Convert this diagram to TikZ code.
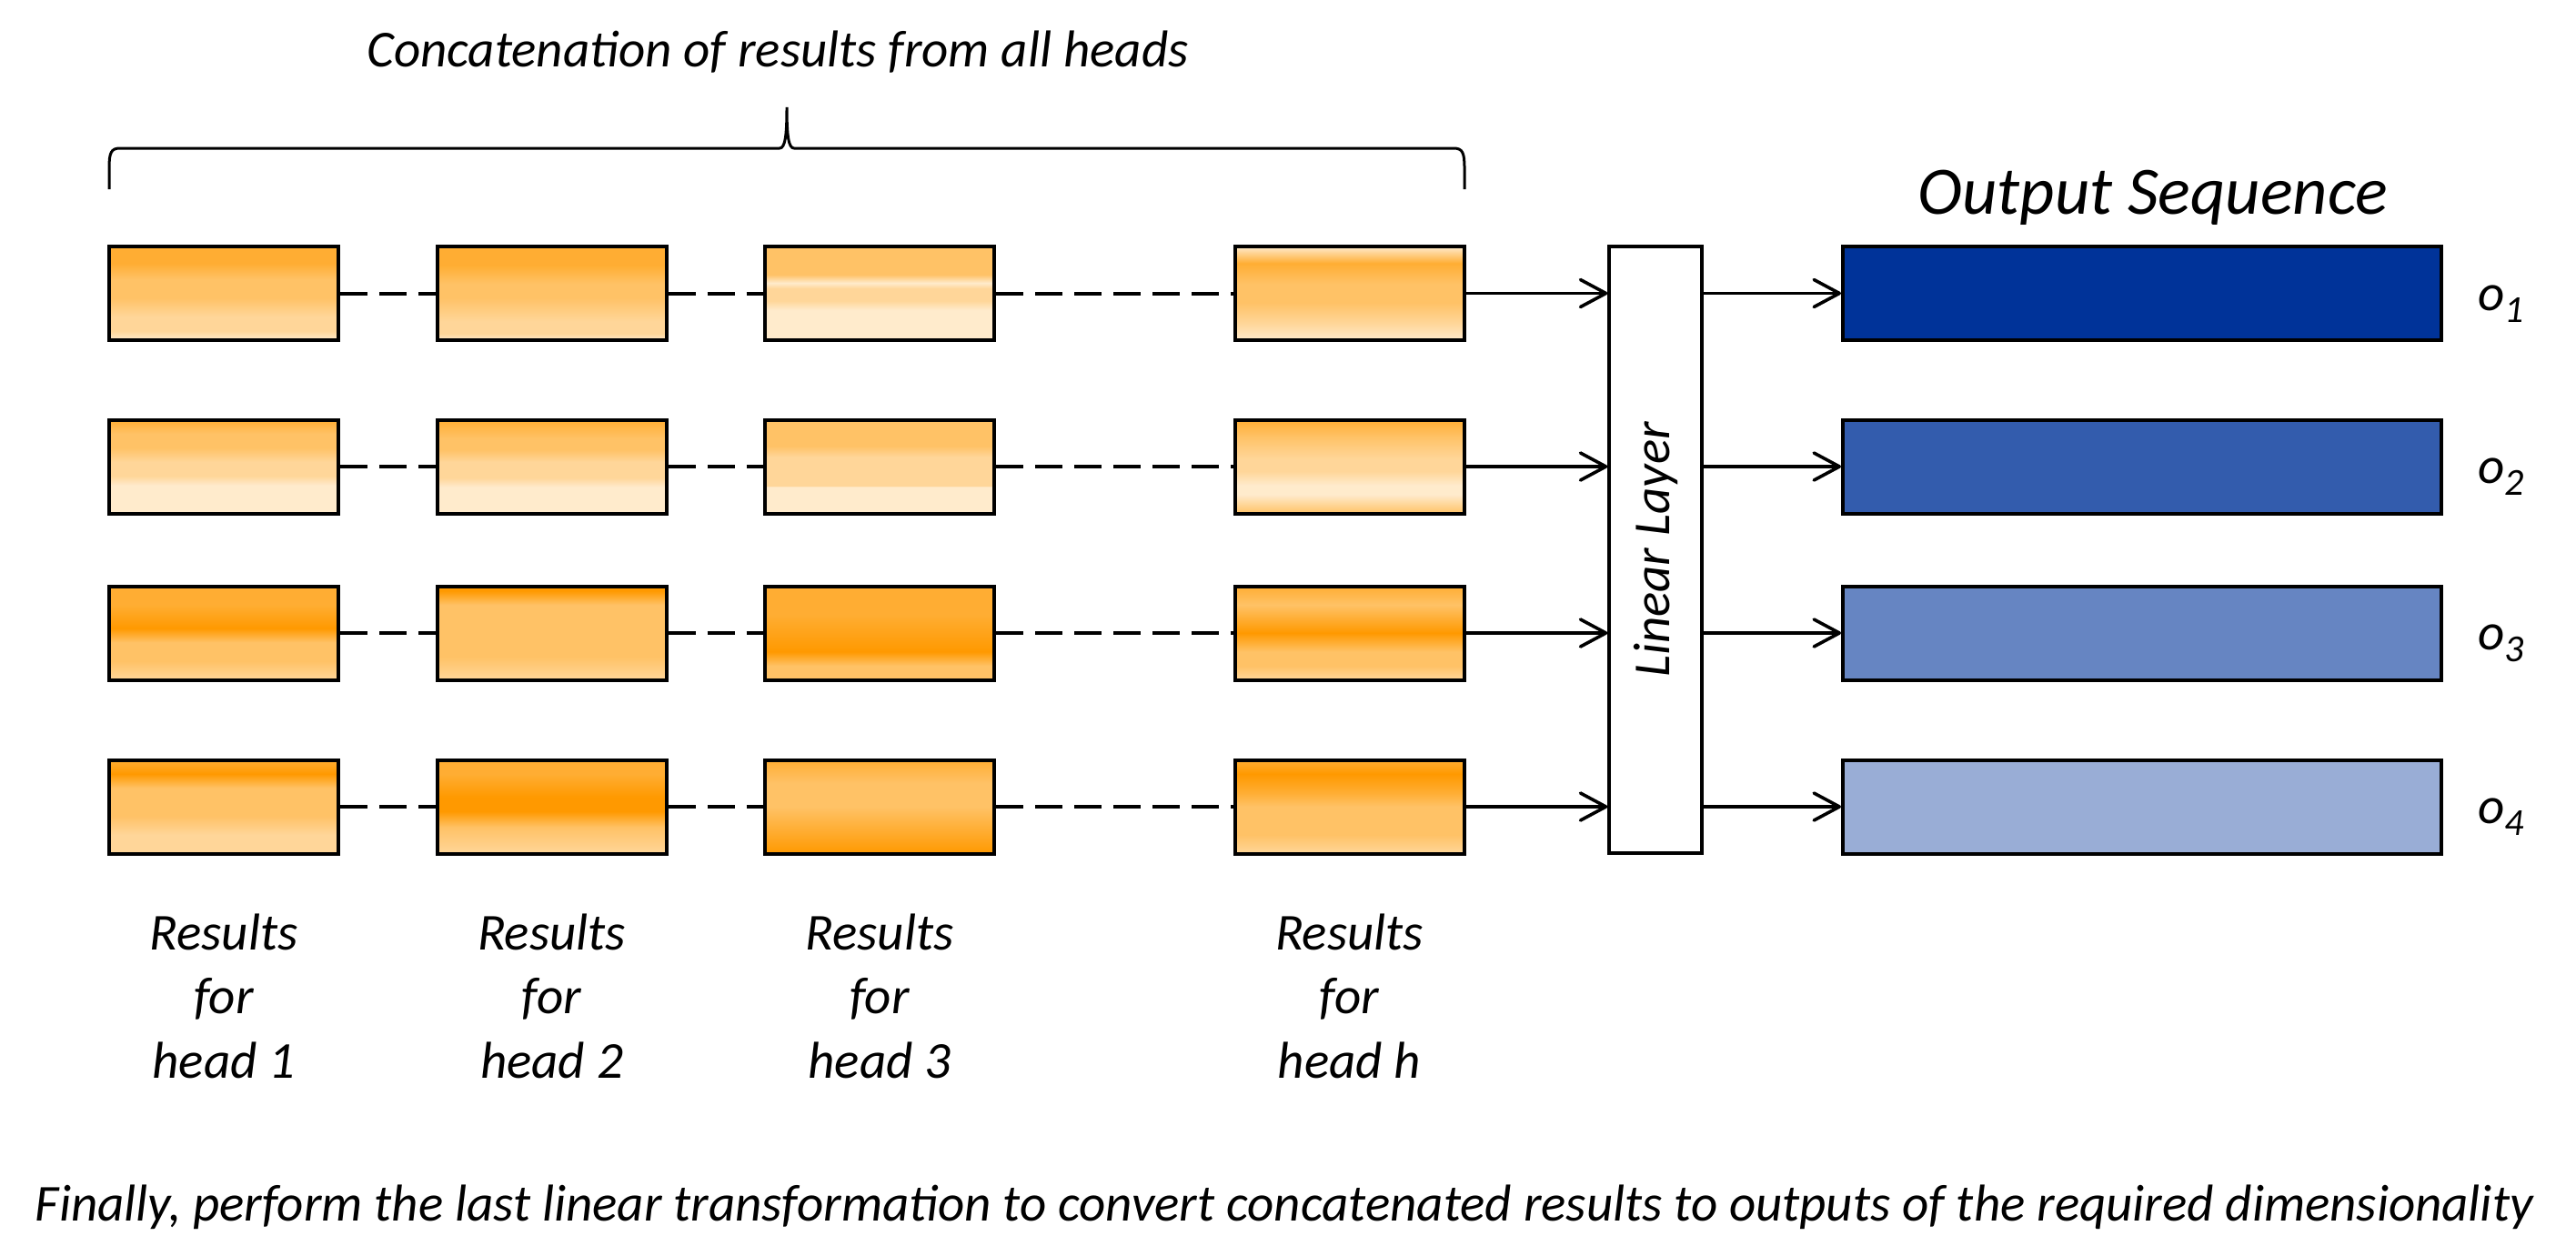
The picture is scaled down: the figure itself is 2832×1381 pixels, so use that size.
\documentclass[tikz,border=0pt]{standalone}
\usepackage{fontspec}
\setmainfont{Carlito}
\usepackage{xcolor}
\usetikzlibrary{arrows.meta}

\definecolor{orng}{RGB}{255,153,0}
\colorlet{o100}{orng}
\colorlet{o80}{orng!80}
\colorlet{o60}{orng!60}
\colorlet{o40}{orng!40}
\colorlet{o20}{orng!20}
\definecolor{outblue}{RGB}{0,51,153}

% one shading per head box, stops run from the top of the box down
\pgfdeclareverticalshading{sh11}{100bp}{color(0bp)=(o80); color(25bp)=(o80); color(34bp)=(o80); color(42.5bp)=(o60); color(52.5bp)=(o60); color(62.5bp)=(o40); color(70bp)=(o40); color(75bp)=(o20); color(100bp)=(o20)}
\pgfdeclareverticalshading{sh12}{100bp}{color(0bp)=(o80); color(25bp)=(o80); color(35bp)=(o80); color(45bp)=(o60); color(52.5bp)=(o60); color(65bp)=(o40); color(71.5bp)=(o40); color(75bp)=(o20); color(100bp)=(o20)}
\pgfdeclareverticalshading{sh13}{100bp}{color(0bp)=(o60); color(25bp)=(o60); color(40bp)=(o60); color(44.5bp)=(o20); color(47.5bp)=(o40); color(54bp)=(o40); color(59bp)=(o20); color(75bp)=(o20); color(100bp)=(o20)}
\pgfdeclareverticalshading{sh14}{100bp}{color(0bp)=(o20); color(25bp)=(o20); color(28bp)=(o40); color(34bp)=(o80); color(45bp)=(o60); color(55bp)=(o60); color(66bp)=(o40); color(75bp)=(o20); color(100bp)=(o20)}
\pgfdeclareverticalshading{sh21}{100bp}{color(0bp)=(o80); color(25bp)=(o80); color(32.5bp)=(o60); color(40bp)=(o60); color(47.5bp)=(o40); color(55bp)=(o40); color(60bp)=(o20); color(75bp)=(o20); color(100bp)=(o20)}
\pgfdeclareverticalshading{sh22}{100bp}{color(0bp)=(o80); color(25bp)=(o80); color(35bp)=(o60); color(41bp)=(o60); color(47.5bp)=(o40); color(56bp)=(o40); color(61bp)=(o20); color(75bp)=(o20); color(100bp)=(o20)}
\pgfdeclareverticalshading{sh23}{100bp}{color(0bp)=(o60); color(25bp)=(o60); color(39bp)=(o60); color(45bp)=(o40); color(60.5bp)=(o40); color(60.75bp)=(o20); color(75bp)=(o20); color(100bp)=(o20)}
\pgfdeclareverticalshading{sh24}{100bp}{color(0bp)=(o80); color(25bp)=(o80); color(34bp)=(o60); color(46bp)=(o40); color(52.5bp)=(o40); color(60bp)=(o20); color(65bp)=(o20); color(70bp)=(o40); color(75bp)=(o60); color(100bp)=(o60)}
\pgfdeclareverticalshading{sh31}{100bp}{color(0bp)=(o80); color(25bp)=(o80); color(35bp)=(o80); color(47.5bp)=(o100); color(55bp)=(o60); color(65bp)=(o60); color(75bp)=(o40); color(100bp)=(o40)}
\pgfdeclareverticalshading{sh32}{100bp}{color(0bp)=(o100); color(25bp)=(o100); color(27.5bp)=(o100); color(35bp)=(o60); color(62.5bp)=(o60); color(75bp)=(o40); color(100bp)=(o40)}
\pgfdeclareverticalshading{sh33}{100bp}{color(0bp)=(o80); color(25bp)=(o80); color(40bp)=(o80); color(60bp)=(o100); color(67.5bp)=(o60); color(75bp)=(o60); color(100bp)=(o60)}
\pgfdeclareverticalshading{sh34}{100bp}{color(0bp)=(o80); color(25bp)=(o80); color(35bp)=(o60); color(50bp)=(o100); color(60bp)=(o60); color(67.5bp)=(o60); color(75bp)=(o40); color(100bp)=(o40)}
\pgfdeclareverticalshading{sh41}{100bp}{color(0bp)=(o80); color(25bp)=(o80); color(32.5bp)=(o100); color(40bp)=(o60); color(55bp)=(o60); color(65bp)=(o40); color(75bp)=(o40); color(100bp)=(o40)}
\pgfdeclareverticalshading{sh42}{100bp}{color(0bp)=(o80); color(25bp)=(o80); color(32.5bp)=(o80); color(45bp)=(o100); color(52.5bp)=(o100); color(61bp)=(o60); color(75bp)=(o40); color(100bp)=(o40)}
\pgfdeclareverticalshading{sh43}{100bp}{color(0bp)=(o80); color(25bp)=(o80); color(37.5bp)=(o60); color(50bp)=(o60); color(62.5bp)=(o80); color(75bp)=(o100); color(100bp)=(o100)}
\pgfdeclareverticalshading{sh44}{100bp}{color(0bp)=(o80); color(25bp)=(o80); color(32.5bp)=(o100); color(42.5bp)=(o80); color(50bp)=(o60); color(65bp)=(o60); color(75bp)=(o40); color(100bp)=(o40)}

\newcommand{\osub}[1]{\raisebox{-6.5pt}{\fontsize{21pt}{24pt}\selectfont #1}}

\begin{document}
\begin{tikzpicture}[x=0.5pt, y=-0.5pt,
    headbox/.style = {draw, line width=2pt, minimum width=126pt,
      minimum height=51.5pt, inner sep=0pt, shade, shading=#1, shading angle=180},
    outbox/.style = {draw, line width=2pt, minimum width=329pt,
      minimum height=51.5pt, inner sep=0pt, fill=#1},
    linbox/.style = {draw, line width=1.7pt, minimum width=51pt,
      minimum height=333.5pt, inner sep=0pt},
    linkdash/.style = {line width=2pt, dash pattern=on 15pt off 6.5pt},
    feed/.style = {line width=1.8pt, -{Straight Barb[length=14pt,width=15pt,round]}},
    headtag/.style = {font=\fontsize{28.5pt}{35.25pt}\selectfont\itshape,
      align=center, inner sep=0pt}]
  \useasboundingbox (0,0) rectangle (2832,1381);

  \node[headtag, anchor=base] (concat) at (855,73) {Concatenation of results from all heads};
  \draw[line width=1.5pt] (120,208) -- (120,185) .. controls (120,168) and (122,163) .. (132,163)
    -- (857,163) .. controls (863,163) and (865,150) .. (865,118)
    .. controls (865,150) and (867,163) .. (873,163) -- (1598,163)
    .. controls (1608,163) and (1610,168) .. (1610,185) -- (1610,208);

  \node[headbox=sh11] (h11) at (246,322.5) {};
  \node[headbox=sh12] (h12) at (606.5,322.5) {};
  \node[headbox=sh13] (h13) at (967,322.5) {};
  \node[headbox=sh14] (h14) at (1483.5,322.5) {};
  \node[headbox=sh21] (h21) at (246,513) {};
  \node[headbox=sh22] (h22) at (606.5,513) {};
  \node[headbox=sh23] (h23) at (967,513) {};
  \node[headbox=sh24] (h24) at (1483.5,513) {};
  \node[headbox=sh31] (h31) at (246,696) {};
  \node[headbox=sh32] (h32) at (606.5,696) {};
  \node[headbox=sh33] (h33) at (967,696) {};
  \node[headbox=sh34] (h34) at (1483.5,696) {};
  \node[headbox=sh41] (h41) at (246,887) {};
  \node[headbox=sh42] (h42) at (606.5,887) {};
  \node[headbox=sh43] (h43) at (967,887) {};
  \node[headbox=sh44] (h44) at (1483.5,887) {};

  \draw[linkdash] (h11) -- (h12); \draw[linkdash] (h12) -- (h13); \draw[linkdash] (h13) -- (h14);
  \draw[linkdash] (h21) -- (h22); \draw[linkdash] (h22) -- (h23); \draw[linkdash] (h23) -- (h24);
  \draw[linkdash] (h31) -- (h32); \draw[linkdash] (h32) -- (h33); \draw[linkdash] (h33) -- (h34);
  \draw[linkdash] (h41) -- (h42); \draw[linkdash] (h42) -- (h43); \draw[linkdash] (h43) -- (h44);

  \node[linbox] (lin) at (1820,604.5) {};
  \node[headtag, rotate=90] (linname) at (lin.center) {Linear Layer};

  \node[font=\fontsize{37.3pt}{45pt}\selectfont\itshape, anchor=base, inner sep=0pt]
    (title) at (2367,235) {Output Sequence};
  \node[outbox=outblue] (ob1) at (2355,322.5) {};
  \node[outbox=outblue!80] (ob2) at (2355,513) {};
  \node[outbox=outblue!60] (ob3) at (2355,696) {};
  \node[outbox=outblue!40] (ob4) at (2355,887) {};

  \draw[feed] (h14) -- (h14 -| lin.west);
  \draw[feed] (h24) -- (h24 -| lin.west);
  \draw[feed] (h34) -- (h34 -| lin.west);
  \draw[feed] (h44) -- (h44 -| lin.west);
  \draw[feed] (lin.east |- ob1) -- (ob1);
  \draw[feed] (lin.east |- ob2) -- (ob2);
  \draw[feed] (lin.east |- ob3) -- (ob3);
  \draw[feed] (lin.east |- ob4) -- (ob4);

  \node[headtag, anchor=base west] (o1) at (2724,341) {o\osub{1}};
  \node[headtag, anchor=base west] (o2) at (2724,531.5) {o\osub{2}};
  \node[headtag, anchor=base west] (o3) at (2724,714.5) {o\osub{3}};
  \node[headtag, anchor=base west] (o4) at (2724,905.5) {o\osub{4}};

  \node[headtag] (t1) at (246,1095) {Results\\for\\head 1};
  \node[headtag] (t2) at (606.5,1095) {Results\\for\\head 2};
  \node[headtag] (t3) at (967,1095) {Results\\for\\head 3};
  \node[headtag] (t4) at (1483.5,1095) {Results\\for\\head h};

  \node[headtag, anchor=base] (caption) at (1412,1342) {Finally, perform the last linear transformation to convert concatenated results to outputs of the required dimensionality};
\end{tikzpicture}
\end{document}
